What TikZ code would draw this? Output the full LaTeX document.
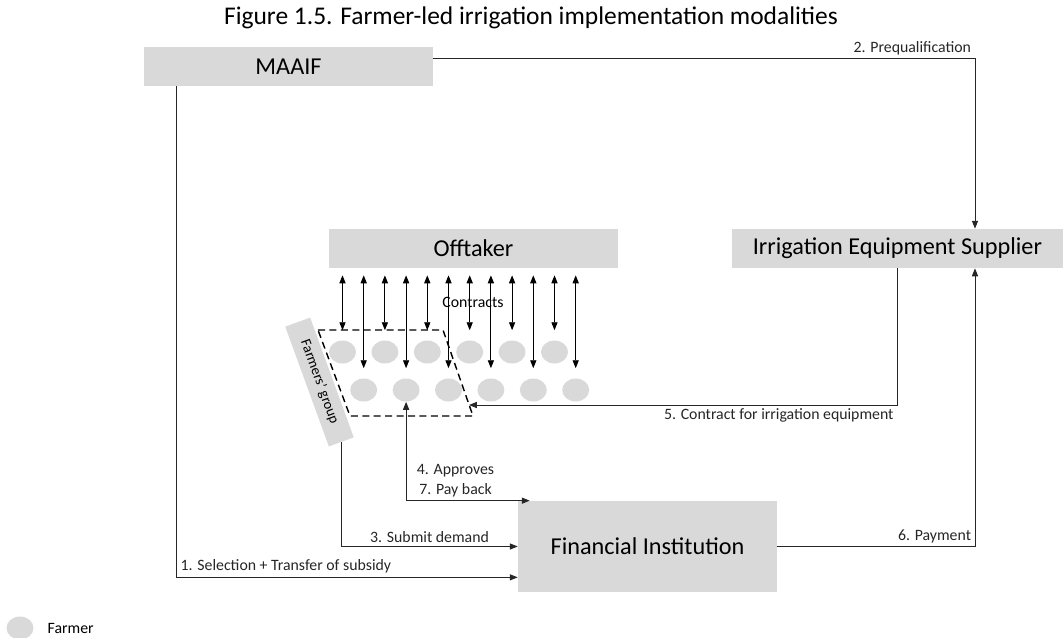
\documentclass[tikz,border=0pt]{standalone}
\usepackage{fontspec}
\setmainfont{Carlito}
\usetikzlibrary{positioning,arrows.meta,shapes.geometric}
\definecolor{boxgray}{HTML}{D9D9D9}
\tikzset{
  box/.style={fill=boxgray, inner sep=0pt, font=\fontsize{13.8}{16}\selectfont},
  farmer/.style={ellipse, fill=boxgray, minimum width=0.54cm, minimum height=0.46cm, inner sep=0pt},
  lbl/.style={font=\fontsize{9}{11}\selectfont, inner sep=2pt},
  link/.style={->, black!85, line width=0.5pt},
}

\begin{document}
\begin{tikzpicture}[x=0.02cm, y=-0.02cm, >={Triangle[length=4.5pt,width=3.5pt]}]
\useasboundingbox (0,0) rectangle (1063,637);
\node[font=\fontsize{14.5}{17}\selectfont] (title) at (531,18) {Figure 1.5. Farmer-led irrigation implementation modalities};
\node[box, minimum width=5.78cm, minimum height=0.78cm] (MAAIF) at (288.5,66.5) {MAAIF};
\node[box, minimum width=5.78cm, minimum height=0.78cm] (Offtaker) at (473.5,248.5) {Offtaker};
\node[box, minimum width=6.62cm, minimum height=0.78cm] (IES) at (897.5,248.5) {Irrigation Equipment Supplier};
\node[box, minimum width=5.18cm, minimum height=1.82cm] (FI) at (647.5,546.5) {Financial Institution};
\node[box, font=\fontsize{8.2}{9}\selectfont, rotate=-70, minimum width=2.55cm, minimum height=0.53cm] (group) at (319.5,382) {Farmers' group};
% farmers, two rows
\foreach \i in {1,...,12}{
  \pgfmathsetmacro{\fy}{ifthenelse(mod(\i,2)==1,352,390)}
  \node[farmer] (f\i) at ({342.5+21.2*(\i-1)},\fy) {};
}
\foreach \i in {1,...,12}
  \draw[<->, line width=0.5pt, shorten <=0.14cm, shorten >=0.2cm] (Offtaker.south -| f\i) -- (f\i.north);
\node[lbl] (contracts) at (473,302) {Contracts};
\draw[dashed, line width=0.8pt, dash pattern=on 4pt off 2.5pt] (318,330) -- (443,330) -- (473,416) -- (350,416) -- cycle;
\coordinate (grpR) at (469,405);
% flows
\draw[link] ([yshift=0.16cm]MAAIF.east) -| node[pos=0.5, above left, lbl] {2. Prequalification} ([xshift=1.55cm]IES.north);
\draw[link] (IES.south) |- node[pos=0.5, below left, lbl] {5. Contract for irrigation equipment} (grpR);
\draw[link] (FI.east) -| node[pos=0.5, above left, lbl] {6. Payment} ([xshift=1.55cm]IES.south);
\draw[link] ([xshift=0.66cm]MAAIF.south west) |- node[pos=0.5, above right, lbl] {1. Selection + Transfer of subsidy} ([yshift=0.3cm]FI.south west);
\draw[link] (group.east) |- node[pos=0.75, above, lbl] {3. Submit demand} (FI.west);
\draw[link, <->] (f4.south) |- node[pos=0.7, above, lbl, align=center] {4. Approves\\7. Pay back} ([xshift=0.24cm]FI.north west);
% legend
\node[farmer] (key) at (20,628) {};
\node[lbl, right=0.2cm of key] (keytext) {Farmer};
\end{tikzpicture}
\end{document}
